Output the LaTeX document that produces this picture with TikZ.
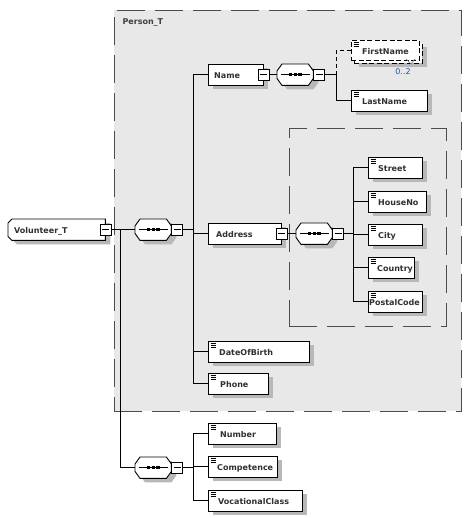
\documentclass[tikz,border=0pt]{standalone}
\usepackage{fontspec}
\setmainfont{DejaVu Sans}
\definecolor{grp}{HTML}{E8E8E8}
\definecolor{shadowc}{RGB}{184,184,184}
\definecolor{txt}{HTML}{303030}
\definecolor{occ}{HTML}{2058A8}
\pgfdeclarelayer{bg}
\pgfdeclarelayer{mid}
\pgfsetlayers{bg,mid,main}
\newcommand\shbox[1]{%
  \begin{pgfonlayer}{mid}
  \fill[shadowc] ([xshift=5pt,yshift=-4pt]#1.north west) rectangle ([xshift=5pt,yshift=-4pt]#1.south east);
  \end{pgfonlayer}}
\newcommand\octdraw[2]{%
  \path[#2]
    ([xshift=5pt]#1.north west) -- ([xshift=-5pt]#1.north east) -- ([yshift=-7pt]#1.north east)
    -- ([yshift=7pt]#1.south east) -- ([xshift=-5pt]#1.south east) -- ([xshift=5pt]#1.south west)
    -- ([yshift=7pt]#1.south west) -- ([yshift=-7pt]#1.north west) -- cycle;}
\newcommand\seqdraw[1]{%
  \begin{scope}[transform canvas={shift={(5pt,-4pt)}}]
  \octdraw{#1}{fill=shadowc}
  \end{scope}
  \octdraw{#1}{draw=black, line width=0.9pt, fill=white}
  \draw[black, line width=0.8pt] ([xshift=3.5pt]#1.west) -- ([xshift=-3.5pt]#1.east);
  \fill[black] ([shift={(-6.4pt,-1.6pt)}]#1.center) rectangle ([shift={(-3.2pt,1.6pt)}]#1.center);
  \fill[black] ([shift={(-1.6pt,-1.6pt)}]#1.center) rectangle ([shift={(1.6pt,1.6pt)}]#1.center);
  \fill[black] ([shift={(3.2pt,-1.6pt)}]#1.center) rectangle ([shift={(6.4pt,1.6pt)}]#1.center);
}
\begin{document}
\begin{tikzpicture}[x=1pt,y=-1pt,
  font=\fontsize{8}{9.6}\selectfont\bfseries, text=txt,
  line width=0.9pt,
  bw/.style={text width=#1pt},
  box/.style={draw=black, fill=white, rectangle, anchor=north west,
    inner xsep=0pt, inner ysep=0pt, align=left, minimum height=21pt,
    text height=8pt, text depth=0pt},
  optbox/.style={draw=black, fill=white, rectangle, anchor=north west,
    inner xsep=0pt, inner ysep=0pt, align=left, minimum height=20pt,
    text height=8pt, text depth=0pt, dash pattern=on 5pt off 2.5pt},
  ico/.style={path picture={\foreach \d in {2,4,6}{\draw[line width=0.7pt,solid]
      ([shift={(2.5pt,-\d pt)}]path picture bounding box.north west) -- ++(5pt,0pt);}}},
  minus/.style={draw=black, fill=white, rectangle, minimum size=11pt, inner sep=0pt,
    line width=0.8pt, path picture={\draw[line width=0.8pt]
      ([xshift=2pt]path picture bounding box.west) -- ([xshift=-2pt]path picture bounding box.east);}},
  seqn/.style={rectangle, minimum width=36pt, minimum height=21pt, inner sep=0pt, anchor=north west},
  grpbox/.style={draw=black!70, dash pattern=on 28pt off 10pt, rectangle, anchor=north west, inner sep=0pt},
  conn/.style={draw=black, line width=0.8pt},
  optconn/.style={draw=black, line width=0.8pt, dash pattern=on 4pt off 3pt}
]
\useasboundingbox (0,0) rectangle (472,518);
\begin{pgfonlayer}{bg}
\fill[white] (0,0) rectangle (472,518);
\node[grpbox, fill=grp, minimum width=347pt, minimum height=401pt] (person) at (114,10) {};
\node[grpbox, minimum width=157pt, minimum height=198pt] (addrgrp) at (289,128) {};
\end{pgfonlayer}
\node[anchor=base west, text=black!75] (personlbl) at (119,25) {Person\_T};

% root
\node[rectangle, anchor=north west, inner sep=0pt, align=left,
  text width=97pt, minimum height=21pt, text height=8pt, text depth=0pt]
  (vol) at (8,219) {\hspace*{6pt}Volunteer\_T};
\begin{pgfonlayer}{mid}
\fill[shadowc] ([xshift=9pt,yshift=-4pt]vol.north west) -- ([xshift=5pt,yshift=-4pt]vol.north east)
  -- ([xshift=5pt,yshift=-4pt]vol.south east) -- ([xshift=9pt,yshift=-4pt]vol.south west)
  -- ([xshift=5pt]vol.south west) -- ([xshift=5pt,yshift=-8pt]vol.north west) -- cycle;
\draw[black, line width=0.9pt, fill=white]
  ([xshift=4pt]vol.north west) -- (vol.north east) -- (vol.south east)
  -- ([xshift=4pt]vol.south west) -- ([yshift=4pt]vol.south west)
  -- ([yshift=-4pt]vol.north west) -- cycle;
\end{pgfonlayer}
\node[minus] (volm) at (vol.east) {};

% sequence 1
\node[seqn] (seq1) at (135,219) {};
\seqdraw{seq1}
\node[minus, anchor=west] (s1m) at (seq1.east) {};

% Name
\node[box, bw=55] (name) at (208,64) {\hspace*{6pt}Name};
\shbox{name}
\node[minus] (namem) at (name.east) {};
\node[seqn] (nseq) at (277,64) {};
\seqdraw{nseq}
\node[minus, anchor=west] (nsm) at (nseq.east) {};
\node[optbox, bw=68] (firstb) at (354,43) {};
\shbox{firstb}
\node[optbox, ico, bw=68] (first) at (351,40) {\hspace*{11pt}FirstName};
\draw[gray, line width=0.7pt] (406,59) -- (411,64) -- (415,59);
\node[anchor=base, text=occ, font=\fontsize{8}{9.6}\selectfont] (occ) at (403,75) {0..2};
\node[box, ico, bw=76] (last) at (351,90) {\hspace*{11pt}LastName};
\shbox{last}

% Address
\node[box, bw=73] (addr) at (208,223) {\hspace*{8pt}Address};
\shbox{addr}
\node[minus] (addrm) at (addr.east) {};
\node[seqn] (aseq) at (296,223) {};
\seqdraw{aseq}
\node[minus, anchor=west] (asm) at (aseq.east) {};
\node[box, ico, bw=54] (street) at (368,157) {\hspace*{10pt}Street};
\shbox{street}
\node[box, ico, bw=58] (house) at (368,191) {\hspace*{10pt}HouseNo};
\shbox{house}
\node[box, ico, bw=54] (city) at (368,224) {\hspace*{10pt}City};
\shbox{city}
\node[box, ico, bw=46] (country) at (368,257) {\hspace*{9pt}Country};
\shbox{country}
\node[box, ico, bw=54] (postal) at (368,291) {\hspace*{1pt}PostalCode};
\shbox{postal}

\node[box, ico, bw=101] (dob) at (208,341) {\hspace*{11pt}DateOfBirth};
\shbox{dob}
\node[box, ico, bw=60] (phone) at (208,373) {\hspace*{12pt}Phone};
\shbox{phone}

% sequence 2
\node[seqn] (seq2) at (135,457) {};
\seqdraw{seq2}
\node[minus, anchor=west] (s2m) at (seq2.east) {};
\node[box, ico, bw=68] (number) at (208,423) {\hspace*{12pt}Number};
\shbox{number}
\node[box, ico, bw=69] (comp) at (208,456) {\hspace*{9pt}Competence};
\shbox{comp}
\node[box, ico, bw=94] (voc) at (208,490) {\hspace*{10pt}VocationalClass};
\shbox{voc}

% junction columns
\coordinate (jv) at (120,0);
\coordinate (jp) at (193,0);
\coordinate (jn) at (336,0);
\coordinate (ja) at (353,0);

% connectors
\draw[conn] (volm.east) -- (seq1.west);
\draw[conn] (volm.east -| jv) |- (seq2.west);
\draw[conn] (s1m.east) -- (s1m.east -| jp);
\draw[conn] (name.west) -| (jp |- phone.west) -- (phone.west);
\draw[conn] (addr.west) -- (addr.west -| jp);
\draw[conn] (dob.west) -- (dob.west -| jp);
\draw[conn] (namem.east) -- (nseq.west);
\draw[conn] (nsm.east) -- (nsm.east -| jn) |- (last.west);
\draw[optconn] (nsm.east -| jn) |- (first.west);
\draw[conn] (addrm.east) -- (aseq.west);
\draw[conn] (asm.east) -- (asm.east -| ja);
\draw[conn] (street.west) -| (ja |- postal.west) -- (postal.west);
\draw[conn] (house.west) -- (house.west -| ja);
\draw[conn] (city.west) -- (city.west -| ja);
\draw[conn] (country.west) -- (country.west -| ja);
\draw[conn] (s2m.east) -- (s2m.east -| jp);
\draw[conn] (number.west) -| (jp |- voc.west) -- (voc.west);
\draw[conn] (comp.west) -- (comp.west -| jp);
\end{tikzpicture}
\end{document}
